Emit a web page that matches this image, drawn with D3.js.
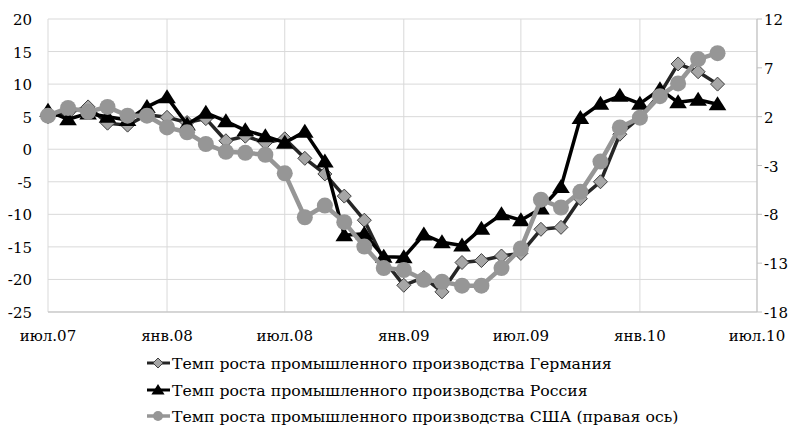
<!DOCTYPE html>
<html><head><meta charset="utf-8">
<script src="https://cdn.jsdelivr.net/npm/d3@7"></script>
<style>body{margin:0;background:#fff}svg{display:block}</style>
</head><body>
<svg id="c" width="790" height="425"></svg>
<script>
const months = ["2007-07","2007-08","2007-09","2007-10","2007-11","2007-12",
"2008-01","2008-02","2008-03","2008-04","2008-05","2008-06",
"2008-07","2008-08","2008-09","2008-10","2008-11","2008-12",
"2009-01","2009-02","2009-03","2009-04","2009-05","2009-06",
"2009-07","2009-08","2009-09","2009-10","2009-11","2009-12",
"2010-01","2010-02","2010-03","2010-04","2010-05"];
const germany = [5.0,5.6,6.5,4.0,3.7,5.3,4.9,4.1,4.7,1.3,2.0,1.0,1.6,-1.4,-3.8,-7.2,-10.9,-17.0,-20.9,-19.7,-21.9,-17.4,-17.1,-16.4,-16.0,-12.3,-12.0,-7.6,-5.0,2.3,4.9,8.5,13.1,11.9,10.0];
const russia = [5.9,4.6,5.5,5.0,4.5,6.5,8.0,3.8,5.6,4.3,2.9,2.0,1.0,2.7,-1.9,-13.2,-13.0,-16.5,-16.6,-13.1,-14.3,-14.8,-12.2,-10.0,-10.9,-9.1,-5.8,4.8,7.0,8.2,7.0,9.2,7.2,7.6,6.9];
const usa = [2.1,2.9,2.5,3.0,2.1,2.1,0.9,0.4,-0.8,-1.6,-1.7,-1.9,-3.8,-8.3,-7.1,-8.8,-11.3,-13.5,-13.7,-14.7,-14.9,-15.3,-15.3,-13.5,-11.5,-6.5,-7.3,-5.7,-2.6,0.9,1.9,4.1,5.4,7.9,8.5];
const xTickDates = ["2007-07","2008-01","2008-07","2009-01","2009-07","2010-01","2010-07"];
const xTickLabels = ["июл.07","янв.08","июл.08","янв.09","июл.09","янв.10","июл.10"];
const leftTicks = [20,15,10,5,0,-5,-10,-15,-20,-25];
const rightTicks = [12,7,2,-3,-8,-13,-18];
const legendLabels = ["Темп роста промышленного производства Германия",
"Темп роста промышленного производства Россия",
"Темп роста промышленного производства США (правая ось)"];

const parse = d3.timeParse("%Y-%m");
const svg = d3.select("#c");
const L = 48, R = 757, T = 19, B = 312;
const x = d3.scaleTime().domain([parse("2007-07"), parse("2010-07")]).range([L, R]);
const yL = d3.scaleLinear().domain([-25, 20]).range([B, T]);
const yR = d3.scaleLinear().domain([-18, 12]).range([B, T]);
const font = "'DejaVu Serif', serif";

// grid
const g = svg.append("g");
g.selectAll("line.h").data(leftTicks).join("line")
  .attr("x1", L).attr("x2", R).attr("y1", d => yL(d)).attr("y2", d => yL(d))
  .attr("stroke", "#d9d9d9").attr("stroke-width", 1);
g.selectAll("line.v").data(xTickDates).join("line")
  .attr("y1", T).attr("y2", B).attr("x1", d => x(parse(d))).attr("x2", d => x(parse(d)))
  .attr("stroke", "#d9d9d9").attr("stroke-width", 1);
// bottom axis & right axis
svg.append("line").attr("x1", L).attr("x2", R).attr("y1", B).attr("y2", B).attr("stroke", "#bfbfbf");
svg.append("line").attr("x1", R).attr("x2", R).attr("y1", T).attr("y2", B).attr("stroke", "#bfbfbf");
svg.selectAll("line.rt").data(rightTicks).join("line")
  .attr("x1", R).attr("x2", R + 5).attr("y1", d => yR(d)).attr("y2", d => yR(d)).attr("stroke", "#bfbfbf");

// tick labels
svg.selectAll("text.yl").data(leftTicks).join("text")
  .attr("x", 32).attr("y", d => yL(d) + 6).attr("text-anchor", "end")
  .attr("font-family", font).attr("font-size", 15).attr("fill", "#000").text(d => d);
svg.selectAll("text.yr").data(rightTicks).join("text")
  .attr("x", 764).attr("y", d => yR(d) + 6).attr("text-anchor", "start")
  .attr("font-family", font).attr("font-size", 15).attr("fill", "#000").text(d => d);
svg.selectAll("text.xl").data(xTickDates).join("text")
  .attr("x", (d, i) => x(parse(d))).attr("y", 341).attr("text-anchor", "middle")
  .attr("font-family", font).attr("font-size", 15).attr("fill", "#000").text((d, i) => xTickLabels[i]);

const dates = months.map(parse);
const diamond = s => `M0,${-s}L${s},0L0,${s}L${-s},0Z`;
const tri = s => `M0,${-s}L${s*1.1},${s*0.75}L${-s*1.1},${s*0.75}Z`;

function series(vals, y, lineColor, lw) {
  const line = d3.line().x((d, i) => x(dates[i])).y(d => y(d));
  svg.append("path").datum(vals).attr("d", line).attr("fill", "none")
    .attr("stroke", lineColor).attr("stroke-width", lw).attr("stroke-linejoin", "round");
}
// Germany
series(germany, yL, "#262626", 3.5);
svg.selectAll("path.de").data(germany).join("path")
  .attr("transform", (d, i) => `translate(${x(dates[i])},${yL(d)})`)
  .attr("d", diamond(7)).attr("fill", "#a6a6a6").attr("stroke", "#404040").attr("stroke-width", 1);
// Russia
series(russia, yL, "#000", 3.5);
svg.selectAll("path.ru").data(russia).join("path")
  .attr("transform", (d, i) => `translate(${x(dates[i])},${yL(d)})`)
  .attr("d", tri(8)).attr("fill", "#000");
// USA
series(usa, yR, "#969696", 4.5);
svg.selectAll("circle.us").data(usa).join("circle")
  .attr("cx", (d, i) => x(dates[i])).attr("cy", d => yR(d)).attr("r", 8).attr("fill", "#969696");

// legend
const ly = [363, 390, 416];
const lg = svg.append("g");
lg.append("line").attr("x1", 147).attr("x2", 170).attr("y1", ly[0]).attr("y2", ly[0]).attr("stroke", "#262626").attr("stroke-width", 3);
lg.append("path").attr("transform", `translate(158,${ly[0]})`).attr("d", diamond(5)).attr("fill", "#a6a6a6").attr("stroke", "#404040");
lg.append("line").attr("x1", 147).attr("x2", 170).attr("y1", ly[1]).attr("y2", ly[1]).attr("stroke", "#000").attr("stroke-width", 3);
lg.append("path").attr("transform", `translate(158,${ly[1]})`).attr("d", tri(6)).attr("fill", "#000");
lg.append("line").attr("x1", 147).attr("x2", 170).attr("y1", ly[2]).attr("y2", ly[2]).attr("stroke", "#969696").attr("stroke-width", 3.5);
lg.append("circle").attr("cx", 158).attr("cy", ly[2]).attr("r", 5).attr("fill", "#969696");
lg.selectAll("text").data(legendLabels).join("text")
  .attr("x", 172).attr("y", (d, i) => ly[i] + 6).attr("font-family", font).attr("font-size", 15.7)
  .attr("fill", "#000").text(d => d);
</script>
</body></html>
